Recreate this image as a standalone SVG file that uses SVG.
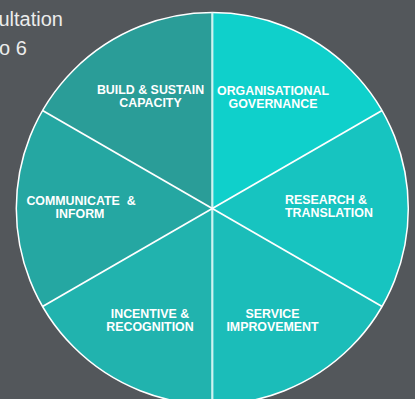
<svg xmlns="http://www.w3.org/2000/svg" width="415" height="399" viewBox="0 0 415 399">
  <defs>
    <style>
      .bg { fill: #53575b; }
      .wedge { stroke: none; }
      .label { font-family: "Liberation Sans", Arial, sans-serif; font-weight: bold; font-size: 12.4px; fill: #ffffff; text-anchor: middle; }
      .left { text-anchor: start; }
      .title { font-family: "Liberation Sans", Arial, sans-serif; font-size: 20px; fill: #ececec; }
      .divider { stroke: #ffffff; stroke-width: 1.8; fill: none; }
      .rim { stroke: #ffffff; stroke-width: 1.5; fill: none; }
    </style>
  </defs>

  <rect class="bg" x="0" y="0" width="415" height="399"/>

  <!-- heading, partly off the left edge -->
  <text class="title" x="-1.5" y="26">ultation</text>
  <text class="title" x="-1" y="55">o 6</text>

  <!-- six 60-degree sectors around (212.3, 208.5), r = 196 -->
  <g id="organisational-governance">
    <path class="wedge" fill="#0fd0cb" d="M212.3,208.5 L212.3,12.5 A196,196 0 0 1 382.04,110.5 Z"/>
    <text class="label" x="273" y="95">ORGANISATIONAL</text>
    <text class="label" x="273" y="107.8">GOVERNANCE</text>
  </g>
  <g id="research-translation">
    <path class="wedge" fill="#17c4c0" d="M212.3,208.5 L382.04,110.5 A196,196 0 0 1 382.04,306.5 Z"/>
    <text class="label left" x="285" y="204">RESEARCH &amp;</text>
    <text class="label left" x="285" y="216.8">TRANSLATION</text>
  </g>
  <g id="service-improvement">
    <path class="wedge" fill="#1bbdb9" d="M212.3,208.5 L382.04,306.5 A196,196 0 0 1 212.3,404.5 Z"/>
    <text class="label" x="272.5" y="318">SERVICE</text>
    <text class="label" x="272.5" y="331">IMPROVEMENT</text>
  </g>
  <g id="incentive-recognition">
    <path class="wedge" fill="#21b3ae" d="M212.3,208.5 L212.3,404.5 A196,196 0 0 1 42.56,306.5 Z"/>
    <text class="label" x="150" y="318">INCENTIVE &amp;</text>
    <text class="label" x="150" y="331">RECOGNITION</text>
  </g>
  <g id="communicate-inform">
    <path class="wedge" fill="#25a7a2" d="M212.3,208.5 L42.56,306.5 A196,196 0 0 1 42.56,110.5 Z"/>
    <text class="label" x="81" y="205" xml:space="preserve">COMMUNICATE  &amp;</text>
    <text class="label" x="80" y="217.8">INFORM</text>
  </g>
  <g id="build-sustain-capacity">
    <path class="wedge" fill="#2a9d98" d="M212.3,208.5 L42.56,110.5 A196,196 0 0 1 212.3,12.5 Z"/>
    <text class="label" x="150.5" y="94">BUILD &amp; SUSTAIN</text>
    <text class="label" x="150.5" y="106.8">CAPACITY</text>
  </g>

  <!-- sector dividers and rim -->
  <g id="connectors">
    <circle class="rim" cx="212.3" cy="208.5" r="196"/>
    <line class="divider" x1="212.3" y1="12.5" x2="212.3" y2="404.5" style="stroke:#cdf3f1;stroke-width:2.2"/>
    <line class="divider" x1="42.56" y1="110.5" x2="382.04" y2="306.5"/>
    <line class="divider" x1="42.56" y1="306.5" x2="382.04" y2="110.5"/>
  </g>
</svg>
